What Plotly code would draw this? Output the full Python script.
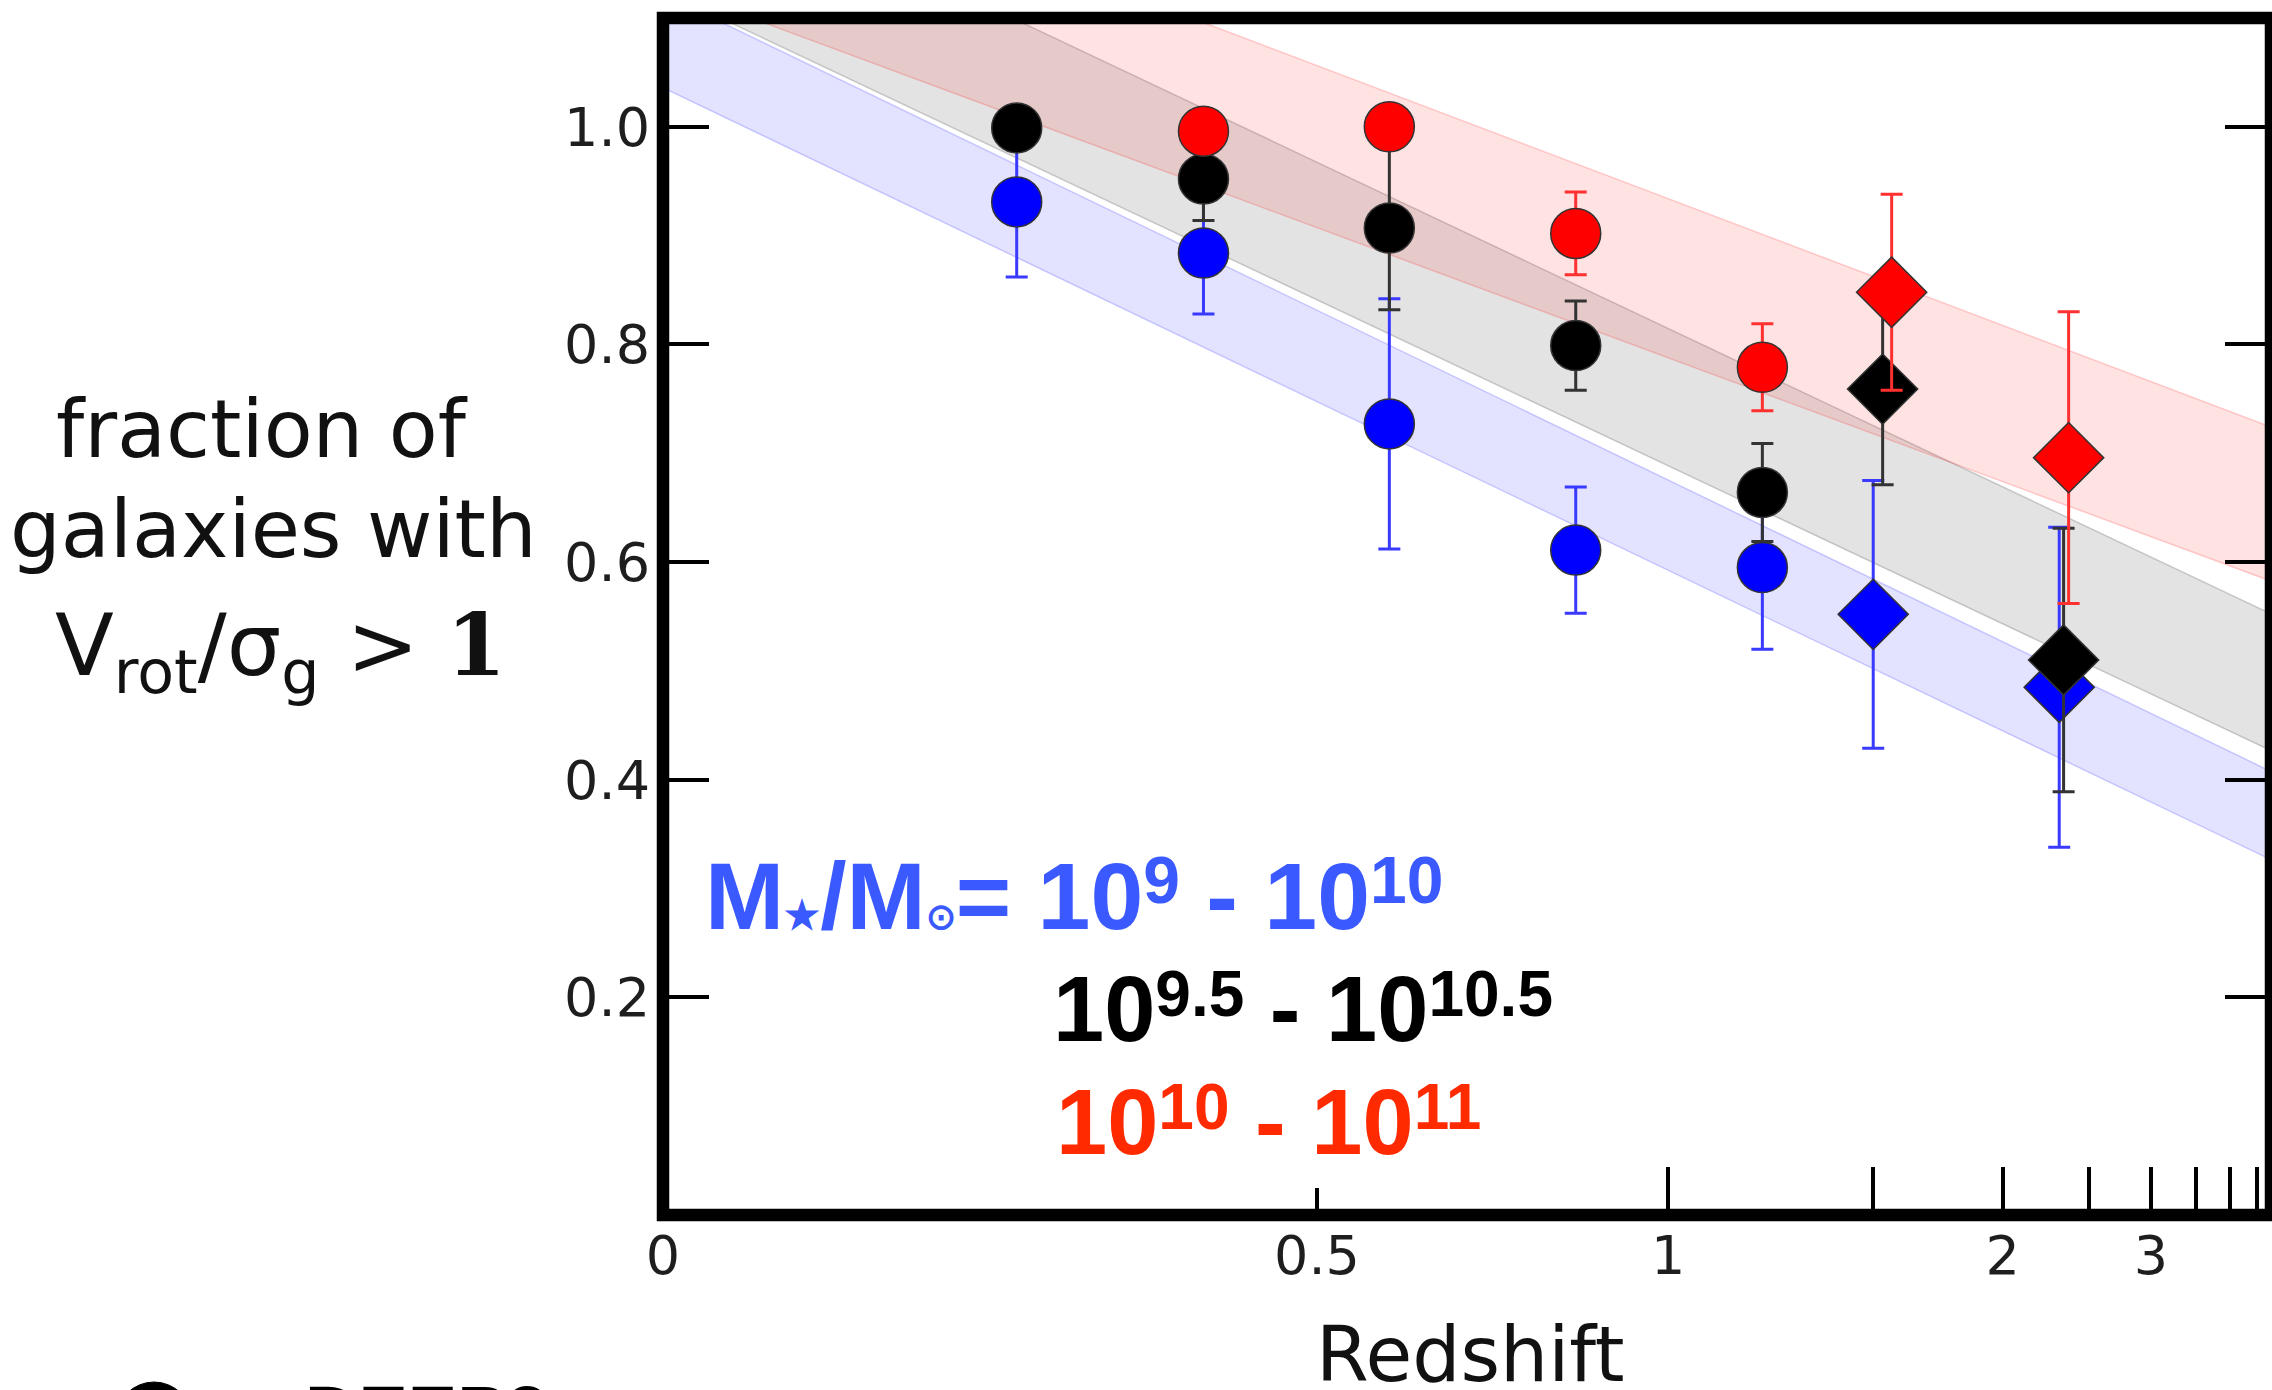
import numpy as np
import plotly.graph_objects as go

# ---------------- cosmology used for the x axis (lookback time, Gyr) -------------
H0 = 70.0
OM = 0.28
OL = 1.0 - OM


def lookback(z):
    tH = 977.8 / H0
    pref = 2.0 / (3.0 * np.sqrt(OL)) * tH
    r = np.sqrt(OL / OM)
    z = np.asarray(z, float)
    return pref * (np.arcsinh(r) - np.arcsinh(r * (1.0 + z) ** -1.5))


# ---------------- data (x in lookback time, Gyr) ----------------
deep2_t = [2.744, 4.193, 5.635, 7.081, 8.529]
blue_circ_y = [0.931, 0.884, 0.727, 0.611, 0.595]
blue_circ_err = [0.069, 0.056, 0.115, 0.058, 0.075]
black_circ_y = [0.999, 0.952, 0.907, 0.799, 0.664]
black_circ_err = [0.0, 0.038, 0.075, 0.041, 0.045]
red_circ_t = [4.193, 5.635, 7.081, 8.529]
red_circ_y = [0.996, 1.000, 0.902, 0.779]
red_circ_err = [0.0, 0.0, 0.038, 0.040]

sigma_blue_t = [9.389, 10.832]
sigma_blue_y = [0.552, 0.485]
sigma_blue_err = [0.123, 0.147]
sigma_black_t = [9.462, 10.866]
sigma_black_y = [0.759, 0.510]
sigma_black_err = [0.088, 0.121]
sigma_red_t = [9.532, 10.905]
sigma_red_y = [0.848, 0.696]
sigma_red_err = [0.090, 0.134]

# model bands (values at the two ends of the lookback-time axis)
band_t = [0.0, 12.475]
blue_band_lo = [1.036, 0.3265]
blue_band_hi = [1.122, 0.4076]
gray_band_lo = [1.125, 0.4267]
gray_band_hi = [1.252, 0.5524]
red_band_lo = [1.130, 0.5825]
red_band_hi = [1.284, 0.7241]

# axis ticks
label_z = [0, 0.5, 1, 2, 3]
label_text = ["0", "0.5", "1", "2", "3"]
long_tick_z = [1, 1.5, 2, 2.5, 3, 3.5, 4, 4.5]
y_ticks = [0.2, 0.4, 0.6, 0.8, 1.0]

# ---------------- figure ----------------
W, H = 2272, 1390
ML, MR, MT, MB = 663, 1, 18, 175
XMAX = band_t[1]

fig = go.Figure()


def add_band(lo, hi, fill, edge):
    fig.add_trace(go.Scatter(
        x=band_t + band_t[::-1], y=hi + lo[::-1], mode="lines",
        fill="toself", fillcolor=fill, line=dict(color=edge, width=1.5),
        hoverinfo="skip", showlegend=False))


add_band(blue_band_lo, blue_band_hi, "rgba(0,0,255,0.11)", "rgba(0,0,255,0.18)")
add_band(gray_band_lo, gray_band_hi, "rgba(0,0,0,0.11)", "rgba(0,0,0,0.18)")
add_band(red_band_lo, red_band_hi, "rgba(255,0,0,0.11)", "rgba(255,0,0,0.18)")


def add_pts(t, y, err, color, ecolor, symbol, size):
    fig.add_trace(go.Scatter(
        x=t, y=y, mode="markers",
        marker=dict(symbol=symbol, size=size, color=color,
                    line=dict(color="#333333", width=1.5)),
        error_y=dict(type="data", array=err, visible=True, color=ecolor,
                     thickness=3, width=11),
        showlegend=False))


BLUE, BLACK, RED = "#0000ff", "#000000", "#ff0000"
add_pts(deep2_t, blue_circ_y, blue_circ_err, BLUE, "#3a3aff", "circle", 50)
add_pts(sigma_blue_t, sigma_blue_y, sigma_blue_err, BLUE, "#3a3aff", "diamond", 54)
add_pts(deep2_t, black_circ_y, black_circ_err, BLACK, "#333333", "circle", 50)
add_pts(sigma_black_t, sigma_black_y, sigma_black_err, BLACK, "#333333", "diamond", 54)
add_pts(red_circ_t, red_circ_y, red_circ_err, RED, "#ff3030", "circle", 50)
add_pts(sigma_red_t, sigma_red_y, sigma_red_err, RED, "#ff3030", "diamond", 54)

# dummy trace for the overlaid long-tick axis
fig.add_trace(go.Scatter(x=[None], y=[None], xaxis="x2", yaxis="y",
                         mode="markers", showlegend=False, hoverinfo="skip"))

TICKFONT = dict(family="DejaVu Sans", size=54, color="#1e1e1e")

fig.update_layout(
    width=W, height=H,
    margin=dict(l=ML, r=MR, t=MT, b=MB, pad=0),
    paper_bgcolor="white", plot_bgcolor="white",
    template="none", showlegend=False,
    xaxis=dict(range=[0, XMAX], tickvals=[float(v) for v in lookback(label_z)],
               ticktext=label_text, ticks="inside", ticklen=27, tickwidth=3.5,
               tickcolor="black", showgrid=False, zeroline=False, showline=False,
               tickfont=TICKFONT, ticklabelstandoff=4),
    xaxis2=dict(range=[0, XMAX], overlaying="x", anchor="y", side="bottom",
                tickvals=[float(v) for v in lookback(long_tick_z)],
                ticks="inside", ticklen=48, tickwidth=3.5, tickcolor="black",
                showticklabels=False, showgrid=False, zeroline=False, showline=False),
    yaxis=dict(range=[0, 1.1], tickvals=y_ticks, tickformat=".1f",
               ticks="inside", ticklen=46, tickwidth=4, tickcolor="black",
               showgrid=False, zeroline=False, showline=False, mirror="ticks",
               tickfont=TICKFONT, ticklabelstandoff=12),
)

# frame
fig.add_shape(type="rect", xref="paper", yref="paper", x0=0, x1=1, y0=0, y1=1,
              line=dict(color="black", width=12.5), layer="above")


def px_to_paper_y(py):
    return (H - MB - py) / (H - MT - MB)


def px_to_paper_x(px):
    return (px - ML) / (W - ML - MR)


def ann(text, px, py, size, color="#111111", family="DejaVu Sans",
        xanchor="center", yanchor="middle"):
    fig.add_annotation(text=text, x=px_to_paper_x(px), y=px_to_paper_y(py),
                       xref="paper", yref="paper", showarrow=False,
                       xanchor=xanchor, yanchor=yanchor,
                       font=dict(family=family, size=size, color=color))


# y label (three lines)
ann("fraction of", 262, 429, 80)
ann("galaxies with", 273, 529, 80)
ann("V<sub>rot</sub>/σ<sub>g</sub> &gt; "
    "<span style='font-family:DejaVu Serif'><b>1</b></span>", 280, 650, 86)

# x label
ann("Redshift", 1470, 1354, 76)

# mass-bin legend
LEG = "Liberation Sans, Arial, sans-serif"


def sup(s, f):
    # superscript raised a little less than plotly's default
    return "<sup><sub><span style='font-size:%dpx'>%s</span></sub></sup>" % (round(0.7 * f), s)


BF, KF = 95, 92
blue_txt = ("<b>M<span style='font-size:40px'>★</span>/M"
            "<span style='font-size:36px'>⊙</span>= 10" + sup("9", BF) +
            " - 10" + sup("10", BF) + "</b>")
black_txt = "<b>10" + sup("9.5", KF) + " - 10" + sup("10.5", KF) + "</b>"
red_txt = "<b>10" + sup("10", KF) + " - 10" + sup("11", KF) + "</b>"

ann(blue_txt, 703, 896, BF, color="#3a5aff", family=LEG, xanchor="left")
ann(black_txt, 1051, 1009, KF, color="#000000", family=LEG, xanchor="left")
ann(red_txt, 1054, 1122, KF, color="#ff2a00", family=LEG, xanchor="left")

# symbol legend cut off at the bottom of the picture
fig.add_shape(type="circle", xref="paper", yref="paper",
              x0=px_to_paper_x(116), x1=px_to_paper_x(192),
              y0=px_to_paper_y(1458), y1=px_to_paper_y(1382),
              fillcolor="black", line=dict(color="black", width=1))
ann("<b>DEEP2</b>", 303, 1369, 74, color="#000000", family=LEG,
    xanchor="left", yanchor="top")

fig.write_html("out.html")
